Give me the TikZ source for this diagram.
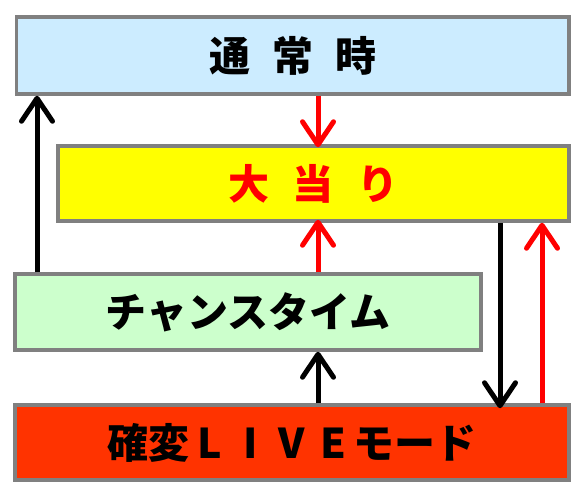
\documentclass[tikz,border=0pt]{standalone}
\usepackage{fontspec}
\newfontfamily\jp{Noto Sans CJK JP}
\usetikzlibrary{arrows.meta}
\definecolor{bxgray}{HTML}{808080}
\definecolor{bxblue}{HTML}{CCECFF}
\definecolor{bxyellow}{HTML}{FFFF00}
\definecolor{bxgreen}{HTML}{CCFFCC}
\definecolor{bxorange}{HTML}{FF3300}
\definecolor{arred}{HTML}{FF0000}
\newcommand{\fw}[1]{\makebox[1em]{#1}}
\tikzset{
  statebox/.style={draw=bxgray, line width=3.5pt, rectangle, inner sep=0pt,
    font=\jp\bfseries\fontsize{41}{41}\selectfont},
  flow/.style={line width=5pt, -{Straight Barb[length=23pt,width=31pt,round]}},
}
\begin{document}
\begin{tikzpicture}[x=1pt,y=-1pt]
\useasboundingbox (0,0) rectangle (585,497);
\node[statebox, fill=bxblue, minimum width=552.5pt, minimum height=77pt] (normal) at (292.75,55.5)
  {通\hspace{22pt}常\hspace{22pt}時};
\node[statebox, fill=bxyellow, text=arred, minimum width=511pt, minimum height=75pt] (hit) at (313.5,183.5)
  {大\hspace{24pt}当\hspace{24pt}り};
\node[statebox, fill=bxgreen, minimum width=466pt, minimum height=76pt] (chance) at (248,312)
  {チャンスタイム};
\node[statebox, fill=bxorange, minimum width=554pt, minimum height=75pt] (live) at (292,442.5)
  {確変\fw{L}\fw{I}\fw{V}\fw{E}モード};
\draw[flow, black] (chance.north -| 37,0) -- (normal.south -| 37,0);
\draw[flow, arred] (normal.south -| 318,0) -- ([yshift=-3pt]hit.north -| 318,0);
\draw[flow, arred] (chance.north -| 318,0) -- ([yshift=3pt]hit.south -| 318,0);
\draw[flow, black] (live.north -| 318,0) -- (chance.south -| 318,0);
\draw[flow, black] (hit.south -| 500,0) -- ([yshift=-5pt]live.north -| 500,0);
\draw[flow, arred] (live.north -| 542,0) -- (hit.south -| 542,0);
\end{tikzpicture}
\end{document}
